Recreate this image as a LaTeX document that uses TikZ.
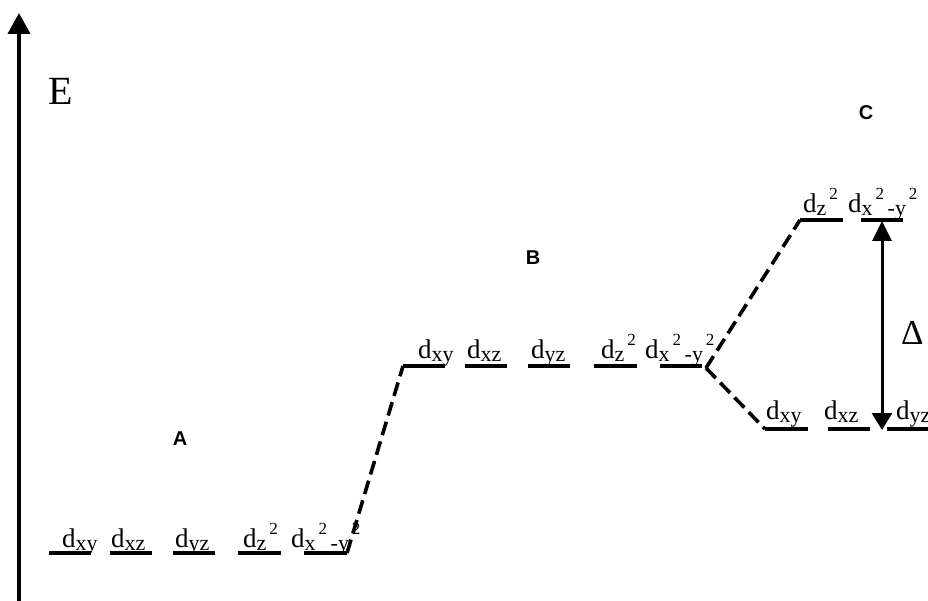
\documentclass[tikz,border=0pt]{standalone}
\usepackage{fontspec}
\setmainfont{Liberation Serif}
\newfontfamily\labelsans{Liberation Sans}
\usetikzlibrary{arrows.meta}
\newcommand{\lo}[1]{\raisebox{-3pt}{\fontsize{22}{22}\selectfont #1}}
\newcommand{\hi}[1]{\raisebox{13pt}{\fontsize{17}{17}\selectfont #1}}
\tikzset{
  level/.style={line width=3.3pt},
  corr/.style={line width=3.6pt, dash pattern=on 14pt off 6.5pt},
  orb/.style={anchor=base west, inner sep=0pt, font=\fontsize{27}{27}\selectfont},
  tag/.style={font=\labelsans\bfseries\fontsize{20}{20}\selectfont, inner sep=0pt},
  gap/.style={line width=3pt, {Triangle[width=19pt,length=20pt]}-{Triangle[width=20pt,length=17pt]}},
  axis/.style={line width=4pt, -{Triangle[width=22pt,length=21pt]}},
}
\begin{document}
\begin{tikzpicture}[x=1pt,y=-1pt]
\useasboundingbox (0,0) rectangle (928,601);
% axis
\coordinate (axbot) at (19,601);
\coordinate (axtop) at (19,13);
\draw[axis] (axbot) -- (axtop);
\node[anchor=base west, inner sep=0pt, font=\fontsize{40}{40}\selectfont] (E) at (48,105) {E};
% levels
\foreach \n/\a/\b in {1/49/91,2/110/152,3/173/215,4/238/281,5/304/347}{
  \coordinate (A\n l) at (\a,553); \coordinate (A\n r) at (\b,553);
  \draw[level] (A\n l) -- (A\n r);}
\foreach \n/\a/\b in {1/403/445,2/465/507,3/528/570,4/594/637,5/660/702}{
  \coordinate (B\n l) at (\a,366); \coordinate (B\n r) at (\b,366);
  \draw[level] (B\n l) -- (B\n r);}
\foreach \n/\a/\b in {1/800/843,2/861/903}{
  \coordinate (CT\n l) at (\a,220); \coordinate (CT\n r) at (\b,220);
  \draw[level] (CT\n l) -- (CT\n r);}
\foreach \n/\a/\b in {1/765/808,2/828/870,3/887/928}{
  \coordinate (CB\n l) at (\a,429); \coordinate (CB\n r) at (\b,429);
  \draw[level] (CB\n l) -- (CB\n r);}
% correlation lines
\coordinate (Bv) at (706,368);
\draw[corr] (A5r) -- (B1l);
\draw[corr] (Bv) -- (CT1l);
\draw[corr] (Bv) -- (CB1l);
% splitting arrow
\coordinate (dtop) at (882,221);
\coordinate (dbot) at (882,430);
\draw[gap] (dtop) -- (dbot);
\node[anchor=base west, inner sep=0pt, font=\fontsize{35}{35}\selectfont] (Delta) at (901,344) {Δ};
% tags
\node[tag] (tA) at (180,438.5) {A};
\node[tag] (tB) at (533,257.5) {B};
\node[tag] (tC) at (866,112.5) {C};
% orbital labels A
\node[orb] (lA1) at (62,547) {d\lo{xy}};
\node[orb] (lA2) at (111,547) {d\lo{xz}};
\node[orb] (lA3) at (175,547) {d\lo{yz}};
\node[orb] (lA4) at (243,547) {d\lo{z}\hi{\,2}};
\node[orb] (lA5) at (291,547) {d\lo{x}\hi{\,2}\lo{\,-y}\hi{\,2}};
% orbital labels B
\node[orb] (lB1) at (418,358) {d\lo{xy}};
\node[orb] (lB2) at (467,358) {d\lo{xz}};
\node[orb] (lB3) at (531,358) {d\lo{yz}};
\node[orb] (lB4) at (601,358) {d\lo{z}\hi{\,2}};
\node[orb] (lB5) at (645,358) {d\lo{x}\hi{\,2}\lo{\,-y}\hi{\,2}};
% orbital labels C
\node[orb] (lC1) at (803,213) {d\lo{z}\hi{\,2}};
\node[orb] (lC2) at (848,213) {d\lo{x}\hi{\,2}\lo{\,-y}\hi{\,2}};
\node[orb] (lC3) at (766,419) {d\lo{xy}};
\node[orb] (lC4) at (824,419) {d\lo{xz}};
\node[orb] (lC5) at (896,419) {d\lo{yz}};
\end{tikzpicture}
\end{document}
